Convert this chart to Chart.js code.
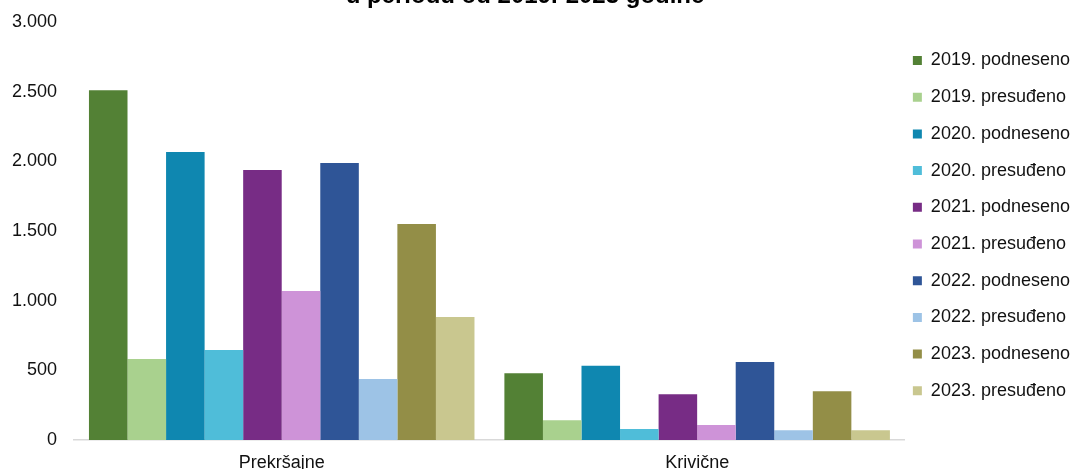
<!DOCTYPE html>
<html>
<head>
<meta charset="utf-8">
<script src="https://cdn.jsdelivr.net/npm/chart.js@4"></script>
<style>
  html, body { margin: 0; padding: 0; background: #fff; overflow: hidden; }
  #wrap { position: relative; width: 1072px; height: 469px; overflow: hidden; }
  #title { position: absolute; left: 0; width: 1050px; top: -18px; text-align: center;
           font: bold 24px "Liberation Sans", Arial, sans-serif; line-height: 26px; color: #000; }
</style>
</head>
<body>
<div id="wrap">
  <canvas id="chart" width="1080" height="481"></canvas>
  <div id="title">u periodu od 2019.-2023 godine</div>
</div>
<script>
const categories = ['Prekršajne', 'Krivične'];
const seriesNames = ['2019. podneseno','2019. presuđeno','2020. podneseno','2020. presuđeno',
                     '2021. podneseno','2021. presuđeno','2022. podneseno','2022. presuđeno',
                     '2023. podneseno','2023. presuđeno'];
const v2019pod = [2510, 479];
const v2019pres = [581, 141];
const v2020pod = [2067, 533];
const v2020pres = [646, 79];
const v2021pod = [1938, 328];
const v2021pres = [1070, 108];
const v2022pod = [1988, 560];
const v2022pres = [438, 70];
const v2023pod = [1550, 350];
const v2023pres = [883, 70];
const colors = ['#538135','#A9D18E','#0F87B0','#4FBDD9','#772C85',
                '#CE93D8','#2F5597','#9DC3E6','#938E47','#C9C78F'];

const values = [v2019pod, v2019pres, v2020pod, v2020pres, v2021pod,
                v2021pres, v2022pod, v2022pres, v2023pod, v2023pres];

function init_graph() {
    let ctx = document.getElementById('chart');
    const datasets = [];
    for (let i = 0; i < seriesNames.length; i++) {
        datasets.push({
            label: seriesNames[i],
            data: values[i],
            backgroundColor: colors[i],
            borderWidth: 0,
            categoryPercentage: 0.928,
            barPercentage: 1.0
        });
    }
    const font = { family: '"Liberation Sans", Arial, sans-serif', size: 18 };
    const config = {
        type: 'bar',
        data: { labels: categories, datasets: datasets },
        options: {
            responsive: false,
            animation: false,
            layout: { padding: { top: 22, left: 0, right: 0, bottom: 0 } },
            plugins: {
                tooltip: { enabled: false },
                legend: {
                    position: 'right',
                    fullSize: false,
                    labels: {
                        boxWidth: 9, boxHeight: 9, padding: 8,
                        color: '#111',
                        font: { family: '"Liberation Sans", Arial, sans-serif', size: 18, lineHeight: 28.7 / 18 },
                        // array text -> row spacing uses font lineHeight
                        generateLabels: chart => Chart.defaults.plugins.legend.labels.generateLabels(chart)
                            .map(l => Object.assign(l, { text: [l.text] }))
                    }
                }
            },
            scales: {
                x: {
                    grid: { display: false, drawTicks: false },
                    border: { color: '#d9d9d9', width: 1.5 },
                    ticks: { color: '#111', font: font, padding: 12 },
                    afterFit: s => { s.height = 41; }
                },
                y: {
                    min: 0, max: 3000,
                    grid: { display: false, drawTicks: false },
                    border: { display: false },
                    ticks: {
                        stepSize: 500, color: '#111', font: font, padding: 17,
                        callback: v => v.toLocaleString('de-DE')
                    },
                    afterFit: s => { s.width = 74; s.paddingTop = 0; s.paddingBottom = 0; }
                }
            }
        }
    };
    new Chart(ctx, config);
}
init_graph();
</script>
</body>
</html>
